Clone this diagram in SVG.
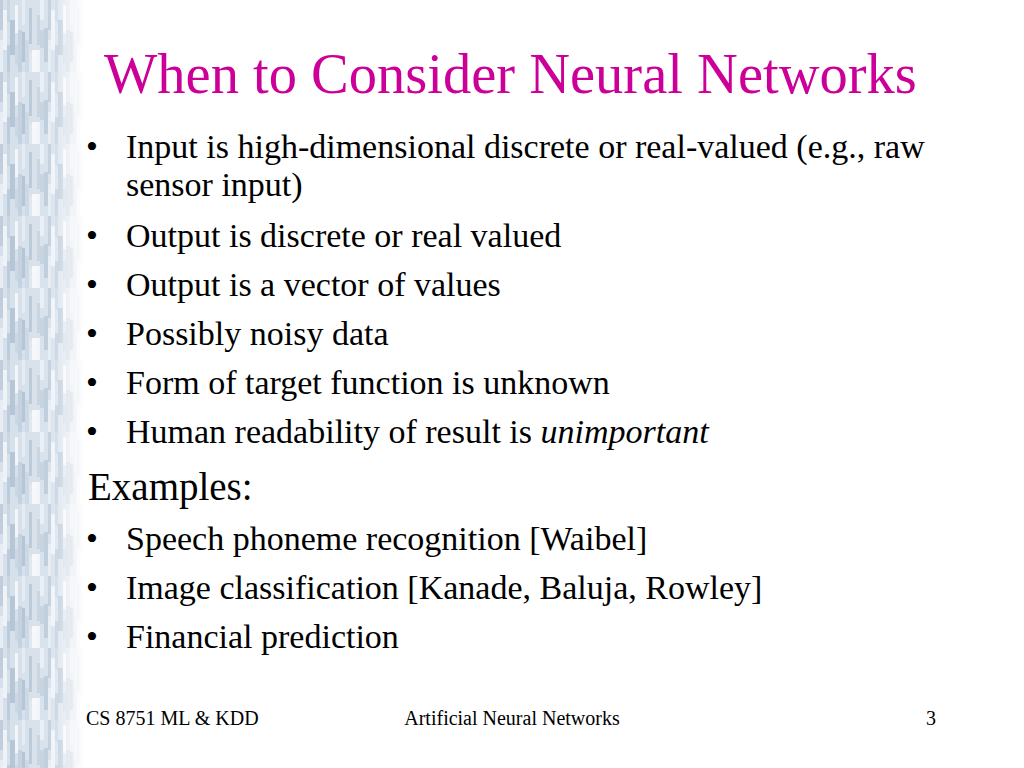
<svg xmlns="http://www.w3.org/2000/svg" width="1024" height="768" viewBox="0 0 1024 768">
<defs>
<linearGradient id="fade" x1="0" y1="0" x2="1" y2="0">
<stop offset="0" stop-color="#ffffff" stop-opacity="0"/>
<stop offset="0.6" stop-color="#ffffff" stop-opacity="0.1"/>
<stop offset="1" stop-color="#ffffff" stop-opacity="1"/>
</linearGradient>
<pattern id="tex" x="0" y="0" width="48" height="72" patternUnits="userSpaceOnUse">
<rect width="48" height="72" fill="#d6e0ea"/>
<rect x="0" y="0" width="3" height="30" fill="#bfcddc"/>
<rect x="3" y="10" width="4" height="40" fill="#eef3f8"/>
<rect x="7" y="0" width="3" height="22" fill="#c8d5e2"/>
<rect x="10" y="20" width="5" height="35" fill="#b4c5d6"/>
<rect x="15" y="5" width="3" height="28" fill="#f2f6fa"/>
<rect x="18" y="30" width="4" height="42" fill="#c2d0de"/>
<rect x="22" y="0" width="3" height="25" fill="#e4ebf2"/>
<rect x="25" y="40" width="4" height="32" fill="#cbd7e3"/>
<rect x="29" y="8" width="3" height="36" fill="#b8c8d8"/>
<rect x="32" y="50" width="5" height="22" fill="#f5f8fb"/>
<rect x="37" y="15" width="3" height="30" fill="#c4d2df"/>
<rect x="40" y="0" width="4" height="20" fill="#e9eff5"/>
<rect x="44" y="28" width="4" height="34" fill="#bacada"/>
<rect x="0" y="40" width="3" height="32" fill="#e6edf3"/>
<rect x="7" y="45" width="3" height="27" fill="#bccbda"/>
<rect x="15" y="45" width="3" height="20" fill="#cad6e2"/>
<rect x="22" y="32" width="3" height="30" fill="#b2c3d4"/>
<rect x="29" y="52" width="3" height="20" fill="#dde6ee"/>
<rect x="37" y="50" width="3" height="22" fill="#f0f4f8"/>
<rect x="40" y="30" width="4" height="18" fill="#c3d1de"/>
</pattern>
</defs>
<style>
.t{font-family:"Liberation Serif","Times New Roman",serif;fill:#000}
.b{font-size:34px}
.f{font-size:20px}
.title{font-family:"Liberation Serif","Times New Roman",serif;font-size:56.5px;fill:#cc0099}
</style>
<rect width="1024" height="768" fill="#ffffff"/>
<g id="stripe">
<rect x="0" y="0" width="84" height="768" fill="url(#tex)"/>
<rect x="0" y="0" width="84" height="768" fill="url(#fade)"/>
</g>
<text class="title" x="104" y="93">When to Consider Neural Networks</text>
<g id="bullets" class="t b">
<text x="86" y="158">•</text><text x="126" y="158">Input is high-dimensional discrete or real-valued (e.g., raw</text>
<text x="126" y="196">sensor input)</text>
<text x="86" y="247">•</text><text x="126" y="247">Output is discrete or real valued</text>
<text x="86" y="296">•</text><text x="126" y="296">Output is a vector of values</text>
<text x="86" y="345">•</text><text x="126" y="345">Possibly noisy data</text>
<text x="86" y="394">•</text><text x="126" y="394">Form of target function is unknown</text>
<text x="86" y="443">•</text><text x="126" y="443">Human readability of result is <tspan font-style="italic">unimportant</tspan></text>
<text x="88" y="500" style="font-size:39px">Examples:</text>
<text x="86" y="550">•</text><text x="126" y="550">Speech phoneme recognition [Waibel]</text>
<text x="86" y="599">•</text><text x="126" y="599">Image classification [Kanade, Baluja, Rowley]</text>
<text x="86" y="648">•</text><text x="126" y="648">Financial prediction</text>
</g>
<g id="footer" class="t f">
<text x="86" y="725">CS 8751 ML &amp; KDD</text>
<text x="512" y="725" text-anchor="middle">Artificial Neural Networks</text>
<text x="936" y="725" text-anchor="end">3</text>
</g>
</svg>
